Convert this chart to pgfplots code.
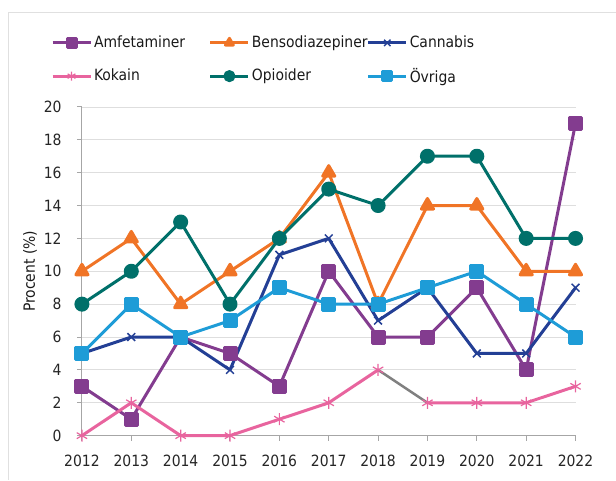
\documentclass[border=0pt]{standalone}
\usepackage{fontspec}
\setmainfont{DejaVu Sans Condensed}
\usepackage{pgfplots}
\pgfplotsset{compat=1.18}
\definecolor{amf}{HTML}{833C8F}
\definecolor{ben}{HTML}{F07426}
\definecolor{can}{HTML}{233F95}
\definecolor{kok}{HTML}{E8649E}
\definecolor{opi}{HTML}{00706A}
\definecolor{ovr}{HTML}{1E9CD7}
\begin{document}
\fontsize{15.5bp}{18bp}\selectfont
\begin{tikzpicture}
\path (-82bp,-44bp) rectangle (534bp,436bp);
\draw[black!12, line width=1bp] (-73bp,-44bp) -- (-73bp,423bp) -- (534bp,423bp);
\begin{axis}[
  scale only axis, width=494bp, height=329bp,
  xmin=2012, xmax=2022, ymin=0, ymax=20,
  xtick={2012,...,2022}, ytick={0,2,...,20},
  axis lines*=left,
  axis line style={draw=black!35, line width=1bp},
  tick style={draw=black!35, line width=1bp},
  tick align=outside, major tick length=5bp,
  ymajorgrids, grid style={draw=black!13, line width=0.8bp},
  ticklabel style={text=black!85},
  xticklabel style={yshift=-9bp},
  yticklabel style={xshift=-10bp},
  /pgf/number format/.cd, 1000 sep={}, assume math mode=true, /pgfplots/.cd,
  ylabel={Procent (\%)},
  ylabel style={at={(axis description cs:-0.105,0.5)}, anchor=center, text=black!90},
  clip=false,
  every axis plot/.append style={line width=3bp, line join=round},
  legend columns=3,
  legend style={draw=none, fill=none, at={(axis description cs:-0.069,1.229)}, anchor=north west,
    row sep=14bp, nodes={text width=113bp, inner sep=2bp, text=black!90}},
  legend image code/.code={\draw[mark repeat=2,mark phase=2] plot coordinates {(0bp,0bp)(19bp,0bp)(38bp,0bp)};},
  legend image post style={mark size=4.5bp},
]
\addplot[amf, mark=square*, mark size=6bp, mark options={solid}] coordinates {
(2012,3)(2013,1)(2014,6)(2015,5)(2016,3)(2017,10)(2018,6)(2019,6)(2020,9)(2021,4)(2022,19)};
\addlegendentry{Amfetaminer}
\addplot[ben, mark=triangle*, mark size=7bp] coordinates {
(2012,10)(2013,12)(2014,8)(2015,10)(2016,12)(2017,16)(2018,8)(2019,14)(2020,14)(2021,10)(2022,10)};
\addlegendentry{Bensodiazepiner}
\addplot[can, mark=x, mark size=5.5bp, mark options={line width=1.5bp}] coordinates {
(2012,5)(2013,6)(2014,6)(2015,4)(2016,11)(2017,12)(2018,7)(2019,9)(2020,5)(2021,5)(2022,9)};
\addlegendentry{Cannabis}
\addplot[kok, mark=asterisk, mark size=6bp, mark options={line width=1.2bp}] coordinates {
(2012,0)(2013,2)(2014,0)(2015,0)(2016,1)(2017,2)(2018,4)};
\addlegendentry{Kokain}
\addplot[opi, mark=*, mark size=6bp] coordinates {
(2012,8)(2013,10)(2014,13)(2015,8)(2016,12)(2017,15)(2018,14)(2019,17)(2020,17)(2021,12)(2022,12)};
\addlegendentry{Opioider}
\addplot[ovr, mark=square*, mark size=6bp] coordinates {
(2012,5)(2013,8)(2014,6)(2015,7)(2016,9)(2017,8)(2018,8)(2019,9)(2020,10)(2021,8)(2022,6)};
\addlegendentry{Övriga}
\addplot[black!50, line width=2.5bp, forget plot] coordinates {(2018,4)(2019,2)};
\addplot[kok, mark=asterisk, mark size=6bp, mark options={line width=1.2bp}, forget plot] coordinates {
(2019,2)(2020,2)(2021,2)(2022,3)};
\end{axis}
\end{tikzpicture}
\end{document}
